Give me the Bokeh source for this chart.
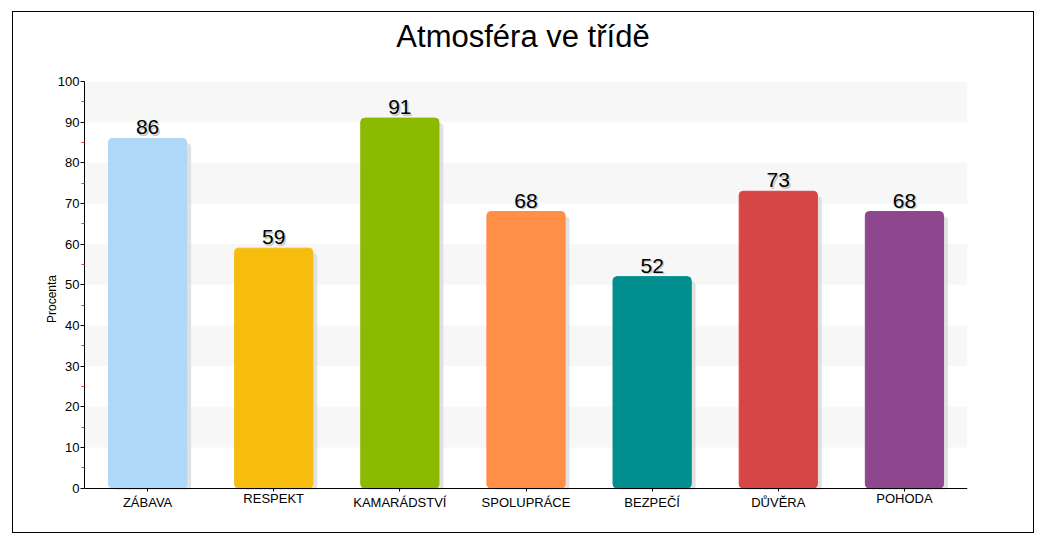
from bokeh.plotting import figure
from bokeh.models import ColumnDataSource, Range1d, FixedTicker, Div
from bokeh.layouts import column
from bokeh.transform import dodge
from bokeh.core.properties import value
from bokeh.embed import file_html
from bokeh.resources import INLINE

title_text = "Atmosféra ve třídě"
categories = ["ZÁBAVA", "RESPEKT", "KAMARÁDSTVÍ", "SPOLUPRÁCE", "BEZPEČÍ", "DŮVĚRA", "POHODA"]
values = [86, 59, 91, 68, 52, 73, 68]
colors = ["#AFD8F8", "#F6BD0F", "#8BBA00", "#FF8E46", "#008E8E", "#D64646", "#8E468E"]
y_ticks = [0, 10, 20, 30, 40, 50, 60, 70, 80, 90, 100]

FONT = "Liberation Sans"
ACCENTED = set("ÁÉÍÓÚŮÝČĎĚŇŘŠŤŽ")
# labels with accents above caps sit a little lower (top-of-glyph alignment)
lab_off = [7 if any(c in ACCENTED for c in c_) else 3 for c_ in categories]

src = ColumnDataSource(dict(cat=categories, v=values, color=colors,
                            lbl=[str(v) for v in values], zero=[0] * len(values),
                            loff=lab_off))

title_div = Div(text=title_text, width=1020, height=50, margin=(0, 0, 0, 0),
                styles={"font-family": FONT, "font-size": "31px", "text-align": "center",
                        "line-height": "50px", "color": "#000000", "background": "white"})

p = figure(x_range=categories, y_range=Range1d(-7, 100), width=1020, height=470,
           output_backend="svg", toolbar_location=None, margin=(0, 0, 0, 0),
           min_border_left=71, min_border_right=66, min_border_top=19, min_border_bottom=16)
p.background_fill_color = "white"
p.border_fill_color = "white"
p.outline_line_color = None

# grid bands (10-20, 30-40, ... shaded)
p.xgrid.grid_line_color = None
p.ygrid.grid_line_color = None
p.ygrid.ticker = FixedTicker(ticks=y_ticks[1:])
p.ygrid.band_fill_color = "#f7f7f7"
p.ygrid.band_fill_alpha = 1.0

# shadows
p.vbar(x=dodge("cat", 0.035, range=p.x_range), top=dodge("v", -1.2), bottom=-0.4, width=0.62,
       source=src, fill_color="#d9d9d9", fill_alpha=0.8, line_color=None, border_radius=4)
# bars
p.vbar(x="cat", top="v", bottom=0, width=0.62, source=src, fill_color="color",
       line_color="color", border_radius=4)

# value labels with shadow
p.text(x="cat", y="v", text="lbl", source=src, text_font=value(FONT), text_font_size="21px",
       text_align="center", text_baseline="alphabetic", x_offset=1.5, y_offset=-9.5,
       text_color="#c8c8c8")
p.text(x="cat", y="v", text="lbl", source=src, text_font=value(FONT), text_font_size="21px",
       text_align="center", text_baseline="alphabetic", y_offset=-11, text_color="#000000")

# category labels
p.text(x="cat", y="zero", text="cat", source=src, text_font=value(FONT), text_font_size="13px",
       text_align="center", text_baseline="top", y_offset="loff", text_color="#000000")

# y axis
ya = p.yaxis[0]
ya.ticker = FixedTicker(ticks=y_ticks, minor_ticks=[5, 15, 25, 35, 45, 55, 65, 75, 85, 95])
ya.bounds = (0, 100)
ya.axis_label = "Procenta"
ya.axis_label_text_font = FONT
ya.axis_label_text_font_size = "12px"
ya.axis_label_text_font_style = "normal"
ya.axis_label_text_color = "#000000"
ya.axis_label_standoff = -4
ya.major_label_text_font = FONT
ya.major_label_text_font_size = "13px"
ya.major_label_text_color = "#000000"
ya.major_label_standoff = 1
ya.major_tick_in = 0
ya.major_tick_out = 4
ya.minor_tick_in = 0
ya.minor_tick_out = 3
ya.minor_tick_line_color = "#ff3030"
ya.axis_line_color = "#000000"
ya.major_tick_line_color = "#000000"

# x axis
xa = p.xaxis[0]
xa.fixed_location = 0
xa.major_label_text_font_size = "0px"
xa.major_label_text_color = None
xa.major_tick_in = 0
xa.major_tick_out = 3
xa.axis_line_color = "#000000"
xa.major_tick_line_color = "#000000"

layout = column(title_div, p, spacing=0, width=1022, height=522, sizing_mode="fixed")
layout.styles = {"border": "1px solid #000000", "margin-left": "12px", "margin-top": "11px",
                 "background": "white"}

open("out.html", "w").write(file_html(layout, INLINE))
